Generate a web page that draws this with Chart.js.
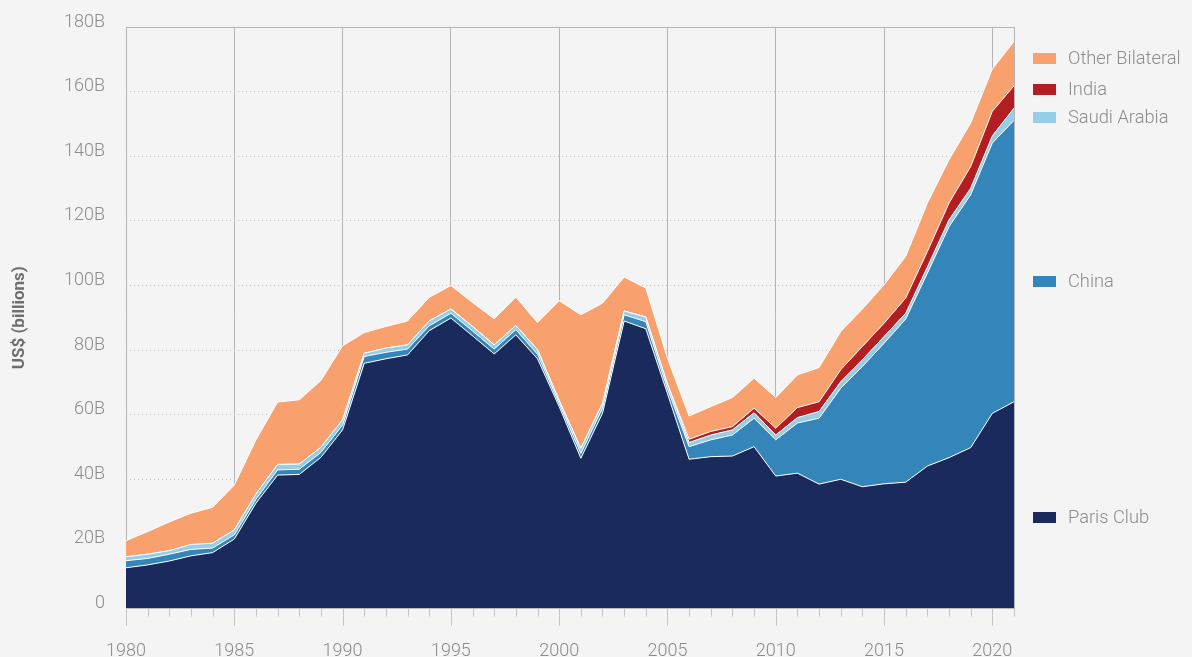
<!DOCTYPE html>
<html><head><meta charset="utf-8">
<script src="https://cdn.jsdelivr.net/npm/chart.js@4.4.1/dist/chart.umd.min.js"></script>
<style>html,body{margin:0;padding:0;background:#f4f4f4;}#wrap{width:1192px;height:657px;position:relative;}</style>
</head><body><div id="wrap"><canvas id="c"></canvas></div>
<script>
const years = ['1980','1981','1982','1983','1984','1985','1986','1987','1988','1989','1990','1991','1992','1993','1994','1995','1996','1997','1998','1999','2000','2001','2002','2003','2004','2005','2006','2007','2008','2009','2010','2011','2012','2013','2014','2015','2016','2017','2018','2019','2020','2021'];
const parisClub = [12.6,13.5,14.7,16.3,17.3,21.5,32.6,41.3,41.5,46.8,55.3,75.9,77.3,78.5,86.0,89.9,84.4,78.8,84.7,77.3,62.5,46.5,60.4,89.0,86.6,66.5,46.2,47.0,47.2,50.1,41.0,41.9,38.5,40.0,37.7,38.6,39.1,44.1,46.7,49.8,60.4,64.0];
const china = [2.2,2.0,2.1,2.0,1.4,1.3,1.2,1.6,1.6,1.5,1.5,2.1,2.0,1.8,1.5,1.5,1.5,1.5,1.6,1.4,1.0,1.5,1.6,1.9,2.2,1.5,3.9,5.2,6.5,8.8,11.2,15.5,20.4,28.2,37.2,43.5,50.5,59.7,71.5,78.3,83.7,87.1];
const saudiArabia = [1.2,1.3,1.1,1.5,1.5,1.5,1.6,1.7,1.6,1.6,1.6,1.0,1.3,1.3,1.5,1.3,1.4,1.3,1.3,1.4,0.9,1.6,1.5,1.2,1.4,1.5,1.3,1.5,1.6,1.7,1.5,1.7,2.1,2.0,2.1,2.1,1.8,1.9,2.1,2.0,2.2,3.8];
const india = [0,0,0,0,0,0,0,0,0,0,0,0,0,0,0,0,0,0,0,0,0,0,0,0,0,0,1.0,1.1,1.0,1.4,2.1,3.1,3.0,3.7,4.1,4.1,4.7,4.8,5.2,6.7,7.6,6.9];
const otherBilateral = [5.0,7.0,8.9,9.7,11.1,13.9,16.8,19.3,19.9,20.7,22.9,6.4,6.7,7.4,7.3,7.3,7.4,8.1,8.8,8.4,30.9,41.3,31.0,10.5,9.0,8.0,7.2,7.7,9.0,9.3,9.5,10.1,10.6,11.8,11.6,11.9,12.9,15.0,13.4,13.5,13.1,13.7];
const yTicks = [0,20,40,60,80,100,120,140,160,180];

const seriesNames = ['Paris Club','China','Saudi Arabia','India','Other Bilateral'];
const seriesData = [parisClub, china, saudiArabia, india, otherBilateral];
const seriesColors = ['#1b2a5c','#3385ba','#96cde8','#b31e23','#f9a06f'];

const FONT = "'Roboto','Liberation Sans',sans-serif";
const GREY = '#8c8c8c';

const datasets = seriesNames.map((n,i)=>({
  label:n, data:seriesData[i], backgroundColor:seriesColors[i],
  borderColor:'#ffffff', borderWidth:1, pointRadius:0, tension:0,
  fill: i===0 ? 'origin' : '-1'
}));

const legendItems = [
  {name:'Other Bilateral', color:'#f9a06f', y:58},
  {name:'India', color:'#b31e23', y:89},
  {name:'Saudi Arabia', color:'#96cde8', y:117},
  {name:'China', color:'#3385ba', y:281},
  {name:'Paris Club', color:'#1b2a5c', y:517}
];

const decor = {
  id:'decor',
  beforeDraw(chart){
    const c=chart.ctx; c.save(); c.fillStyle='#f4f4f4'; c.fillRect(0,0,chart.width,chart.height); c.restore();
  },
  afterDatasetsDraw(chart){
    const c=chart.ctx, a=chart.chartArea, xs=chart.scales.x;
    c.save();
    c.strokeStyle='#b4b4b4'; c.lineWidth=1;
    c.beginPath();
    c.moveTo(a.left, a.top+0.5); c.lineTo(a.right, a.top+0.5);
    c.moveTo(a.right+0.5, a.top); c.lineTo(a.right+0.5, a.bottom);
    c.stroke();
    c.strokeStyle='#c4c4c4';
    years.forEach((y,i)=>{
      const px=Math.round(xs.getPixelForValue(i))+0.5;
      const major = (+y)%5===0;
      c.beginPath(); c.moveTo(px,a.bottom); c.lineTo(px,a.bottom+(major?17:8)); c.stroke();
    });
    c.restore();
  },
  afterDraw(chart){
    const c=chart.ctx; c.save();
    c.font="300 18.3px "+FONT; c.textBaseline='middle'; c.textAlign='left';
    legendItems.forEach(it=>{
      c.fillStyle=it.color; c.fillRect(1033,it.y-5,23,11);
      c.fillStyle=GREY; c.fillText(it.name,1068,it.y+1);
    });
    c.restore();
  }
};

new Chart(document.getElementById('c'),{
  type:'line',
  data:{labels:years, datasets},
  options:{
    responsive:true, maintainAspectRatio:false, animation:false,
    layout:{padding:{top:27,right:178,left:0,bottom:0}},
    plugins:{legend:{display:false}, tooltip:{enabled:false}},
    scales:{
      x:{
        offset:false,
        grid:{drawTicks:false, color:(ctx)=> (ctx.tick && (+years[ctx.index])%5===0) ? '#b4b4b4' : 'rgba(0,0,0,0)', lineWidth:1},
        border:{display:true, color:'#cfcfcf', width:1},
        ticks:{autoSkip:false, maxRotation:0, padding:32, color:GREY, font:{family:FONT,size:18,weight:'300'},
          callback:(v,i)=> ((+years[i])%5===0) ? years[i] : ''},
        afterFit:(s)=>{ s.height=48.5; s.paddingLeft=0; s.paddingRight=0; }
      },
      y:{
        stacked:true, min:0, max:180,
        afterBuildTicks:(s)=>{ s.ticks = yTicks.map(v=>({value:v})); },
        grid:{drawTicks:false, color:(ctx)=> (ctx.tick && (ctx.tick.value===0||ctx.tick.value===180)) ? 'rgba(0,0,0,0)' : '#c2c2c2', lineWidth:1},
        border:{display:false, dash:[1,3]},
        ticks:{padding:21, labelOffset:-5, color:GREY, font:{family:FONT,size:18,weight:'300'},
          callback:(v)=> v===0 ? '0' : v+'B'},
        title:{display:true, text:'US$ (billions)', color:'#6e6e6e', font:{family:FONT,size:17,weight:'bold'}, padding:{top:10,bottom:0}},
        afterFit:(s)=>{ s.width=126; s.paddingTop=0; s.paddingBottom=0; }
      }
    }
  },
  plugins:[decor]
});
</script></body></html>
